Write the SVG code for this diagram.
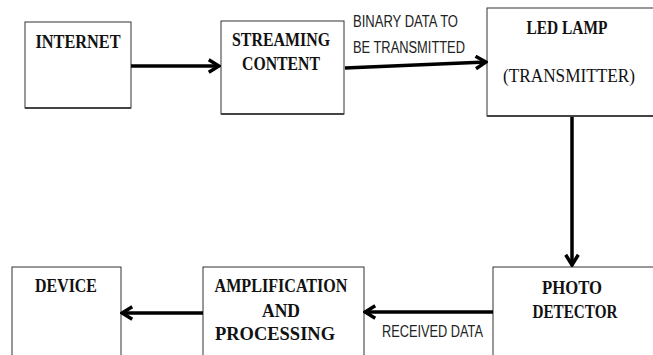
<svg xmlns="http://www.w3.org/2000/svg" width="653" height="355" viewBox="0 0 653 355">
<defs>
<style>
.box{fill:#fff;stroke:#333;stroke-width:1}
.sh{stroke:#444;stroke-width:2}
.t{font-family:"Liberation Serif","Times New Roman",serif;font-weight:bold;font-size:18px;fill:#111;text-anchor:middle}
.tn{font-weight:normal}
.lbl{font-family:"Liberation Sans",Arial,sans-serif;font-size:16px;fill:#222}
.ar{stroke:#000;stroke-width:3.5;fill:none}
</style>
<marker id="ah" viewBox="0 0 10 10" refX="8.5" refY="5" markerWidth="4.5" markerHeight="4.5" markerUnits="strokeWidth" orient="auto">
<path d="M2,1 L8.5,5 L2,9" fill="none" stroke="#000" stroke-width="2.2"/>
</marker>
</defs>
<rect width="653" height="355" fill="#fff"/>
<g id="internet">
<rect class="box" x="25" y="22" width="106" height="86"/>
<line class="sh" x1="25" y1="108" x2="131" y2="108"/>
<text class="t" x="78" y="48" textLength="85" lengthAdjust="spacingAndGlyphs">INTERNET</text>
</g>
<g id="streaming">
<rect class="box" x="221" y="21" width="123" height="93"/>
<line class="sh" x1="221" y1="114" x2="344" y2="114"/>
<text class="t" x="281" y="46" textLength="98" lengthAdjust="spacingAndGlyphs">STREAMING</text>
<text class="t" x="281" y="70" textLength="78" lengthAdjust="spacingAndGlyphs">CONTENT</text>
</g>
<g id="led">
<rect class="box" x="487" y="8" width="170" height="108"/>
<line class="sh" x1="487" y1="116" x2="653" y2="116"/>
<text class="t" x="567" y="34" textLength="81" lengthAdjust="spacingAndGlyphs">LED LAMP</text>
<text class="t tn" x="569" y="82" font-size="19" textLength="132" lengthAdjust="spacingAndGlyphs">(TRANSMITTER)</text>
</g>
<g id="photo">
<rect class="box" x="493" y="267" width="164" height="95"/>
<text class="t" x="572" y="294" textLength="60" lengthAdjust="spacingAndGlyphs">PHOTO</text>
<text class="t" x="575" y="318" textLength="85" lengthAdjust="spacingAndGlyphs">DETECTOR</text>
</g>
<g id="amplification">
<rect class="box" x="203" y="267" width="161" height="95"/>
<text class="t" x="281" y="292" textLength="133" lengthAdjust="spacingAndGlyphs">AMPLIFICATION</text>
<text class="t" x="281" y="317" textLength="38" lengthAdjust="spacingAndGlyphs">AND</text>
<text class="t" x="275" y="340" textLength="120" lengthAdjust="spacingAndGlyphs">PROCESSING</text>
</g>
<g id="device">
<rect class="box" x="12" y="267" width="109" height="95"/>
<text class="t" x="66" y="292" textLength="62" lengthAdjust="spacingAndGlyphs">DEVICE</text>
</g>
<g id="connectors">
<line class="ar" x1="131" y1="66" x2="219" y2="66" marker-end="url(#ah)"/>
<line class="ar" x1="345" y1="68" x2="486" y2="62" marker-end="url(#ah)"/>
<line class="ar" x1="572" y1="117" x2="572" y2="265" marker-end="url(#ah)"/>
<line class="ar" x1="493" y1="312" x2="365" y2="312" marker-end="url(#ah)"/>
<line class="ar" x1="203" y1="313" x2="122" y2="313" marker-end="url(#ah)"/>
<text class="lbl" x="353" y="27" textLength="105" lengthAdjust="spacingAndGlyphs">BINARY DATA TO</text>
<text class="lbl" x="353" y="53" textLength="112" lengthAdjust="spacingAndGlyphs">BE TRANSMITTED</text>
<text class="lbl" x="382" y="337" textLength="101" lengthAdjust="spacingAndGlyphs">RECEIVED DATA</text>
</g>
</svg>
